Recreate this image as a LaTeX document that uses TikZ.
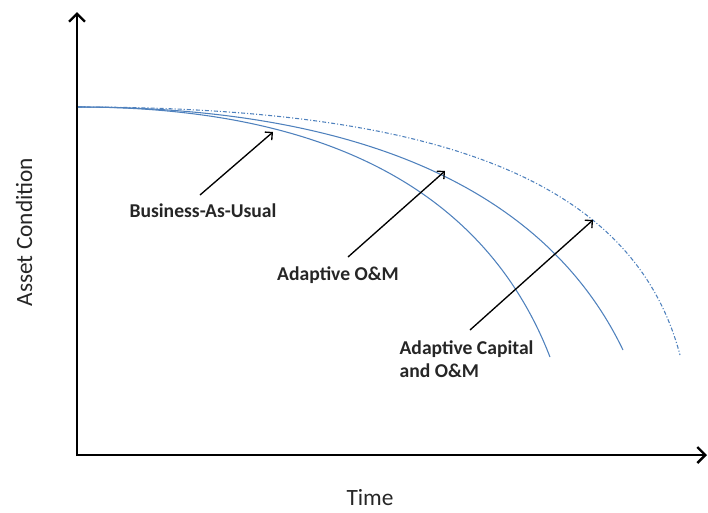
\documentclass[tikz,border=0pt]{standalone}
\usepackage{fontspec}
\setmainfont{Carlito}
\usetikzlibrary{arrows.meta}
\definecolor{curveblue}{RGB}{79,129,189}
\tikzstyle{axisline} = [line width=2.2pt, -{Straight Barb[length=6pt,width=12pt,line width=1.8pt]}]
\tikzstyle{curve} = [curveblue, line width=0.8pt]
\tikzstyle{axistext} = [font=\fontsize{17.5}{20}\selectfont, text=black!85]
\tikzstyle{curvetext} = [font=\fontsize{14.7}{17.5}\selectfont\bfseries, text=black!85, align=left, inner sep=1pt]
\tikzstyle{arrow} = [line width=1pt, -{Straight Barb[length=4pt,width=8pt]}]

\begin{document}
\begin{tikzpicture}[x=0.75pt, y=-0.75pt]
    \useasboundingbox (0,0) rectangle (708,512);
    % axes
    \coordinate (origin) at (77,455);
    \coordinate (ytop) at (77,12);
    \coordinate (xend) at (707,455);
    \draw [axisline] (77,456) -- (ytop);
    \draw [axisline] (76,455) -- (xend);
    \node (ylabel) [axistext, rotate=90] at (24,232) {Asset Condition};
    \node (xlabel) [axistext] at (370,498) {Time};
    % condition curves
    \draw [curve] (78,107) .. controls (360,107) and (495,215) .. (550,357);
    \draw [curve] (78,107) .. controls (378,107) and (551,200) .. (623,350);
    \draw [curve, dash pattern=on 3pt off 1.5pt on 0.8pt off 1.5pt] (78,107) .. controls (450,107) and (635,185) .. (680,355);
    % labels
    \node (bau) [curvetext] at (203,211) {Business-As-Usual};
    \node (om) [curvetext] at (338,275) {Adaptive O\&M};
    \node (cap) [curvetext, anchor=north west] at (398,339) {Adaptive Capital\\and O\&M};
    \coordinate (baupt) at (273,132);
    \coordinate (ompt) at (445,171);
    \coordinate (cappt) at (593,220);
    \draw [arrow] (200,195) -- (baupt);
    \draw [arrow] (348,257) -- (ompt);
    \draw [arrow] (470,330) -- (cappt);
\end{tikzpicture}
\end{document}
